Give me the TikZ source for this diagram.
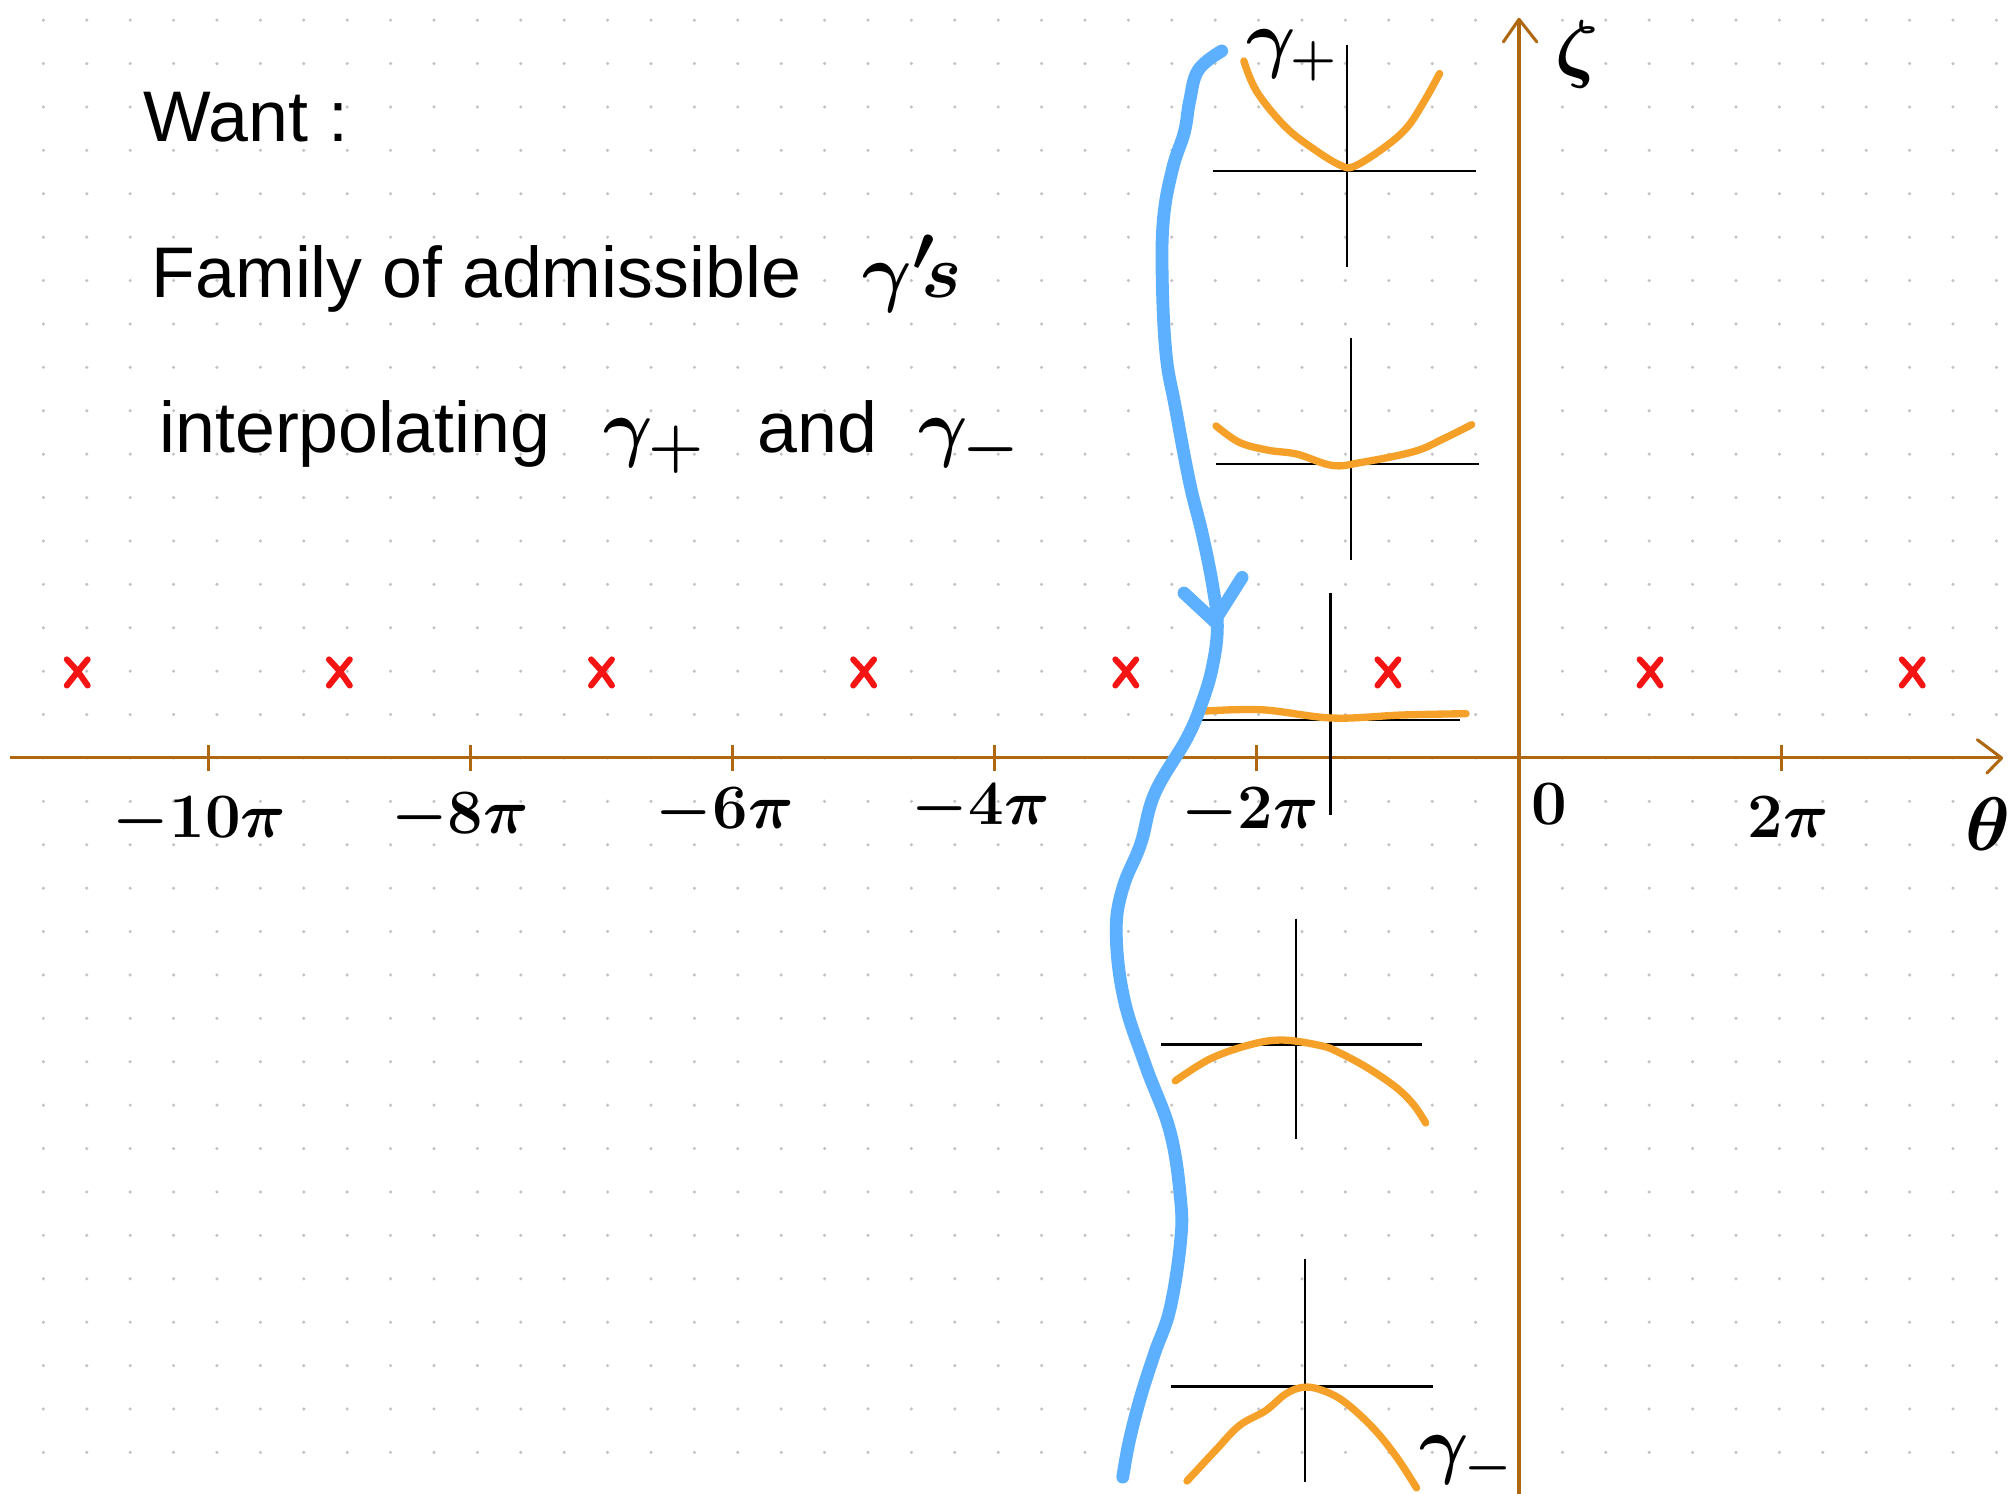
\documentclass[tikz,border=0pt]{standalone}
\usepackage{fontspec}
\setmainfont{Liberation Sans}
\usetikzlibrary{arrows.meta}
\definecolor{axisc}{RGB}{176,104,16}
\definecolor{bluec}{RGB}{92,176,255}
\definecolor{orangec}{RGB}{245,160,40}
\definecolor{redc}{RGB}{245,20,20}
\definecolor{dotc}{RGB}{195,195,195}
\begin{document}
\begin{tikzpicture}[x=0.5cm,y=0.5cm,
  axisline/.style={draw=axisc,line width=1pt},
  chev/.style={draw=axisc,line width=1pt,line cap=round,line join=round},
  crossline/.style={draw=black,line width=0.8pt},
  orangecurve/.style={draw=orangec,line width=2.4pt,line cap=round,line join=round},
  bluecurve/.style={draw=bluec,line width=4.2pt,line cap=round,line join=round},
  xmark/.style={draw=redc,line width=2pt,line cap=round},
  txt/.style={font=\fontsize{23.5}{28}\selectfont,inner sep=0pt,anchor=base west},
  gtxt/.style={font=\fontsize{29}{34}\selectfont\boldmath,inner sep=0pt,anchor=base west},
  ticklabel/.style={font=\fontsize{21}{25}\selectfont\boldmath,inner sep=0pt},
  biglabel/.style={font=\fontsize{32}{38}\selectfont\boldmath,inner sep=0pt},
  smallg/.style={font=\fontsize{24}{28}\selectfont\boldmath,inner sep=0pt,anchor=base west}
]
\useasboundingbox (-35.0,-16.958) rectangle (11.359,17.465);
\fill[white] (-35.0,-16.958) rectangle (11.359,17.465);
% dot grid
\foreach \i in {-34,...,11} {
  \foreach \j in {-16,...,17} {
    \fill[dotc] (\i,\j) circle (0.04);
  }
}
% axes
\coordinate (xl) at (-34.77,0);
\coordinate (xr) at (11.12,0);
\coordinate (yb) at (0,-16.96);
\coordinate (yt) at (0,17.02);
\draw[axisline] (xl) -- (xr);
\draw[axisline] (yb) -- (yt);
\coordinate (xa1) at (10.56,0.42);
\coordinate (xa2) at (10.78,-0.35);
\draw[chev] (xa1) -- (xr) -- (xa2);
\coordinate (ya1) at (-0.36,16.5);
\coordinate (ya2) at (0.41,16.5);
\draw[chev] (ya1) -- (yt) -- (ya2);
% ticks and labels
\foreach \k in {-5,-4,-3,-2,-1,1} {
  \draw[axisline] (\k*6.04,0.3) -- (\k*6.04,-0.3);
}
\node[ticklabel] (lm10) at (-30.4,-1.45) {$-10\pi$};
\node[ticklabel] (lm8) at (-24.4,-1.37) {$-8\pi$};
\node[ticklabel] (lm6) at (-18.3,-1.25) {$-6\pi$};
\node[ticklabel] (lm4) at (-12.4,-1.16) {$-4\pi$};
\node[ticklabel] (lm2) at (-6.2,-1.25) {$-2\pi$};
\node[ticklabel] (l0) at (0.69,-1.07) {$0$};
\node[ticklabel] (lp2) at (6.2,-1.37) {$2\pi$};
\node[biglabel] (theta) at (10.8,-1.52) {$\theta$};
\node[biglabel] (zeta) at (1.35,16.2) {$\zeta$};
% red marks
\foreach \k in {-11,-9,...,9} {
  \draw[xmark,shift={(\k*3.02,1.97)}] (-0.24,0.3) .. controls (0.02,0.02) .. (0.24,-0.3)
     (0.24,0.3) .. controls (-0.02,-0.02) .. (-0.24,-0.3);
}
% text
\node[txt] (want) at (-31.7,14.21) {Want :};
\node[txt] (family) at (-31.52,10.6) {Family of admissible};
\node[gtxt] (gs) at (-15.13,10.6) {$\gamma'\!s$};
\node[txt] (interp) at (-31.34,7.03) {interpolating};
\node[gtxt] (gp) at (-21.1,7.03) {$\gamma_+$};
\node[txt] (and) at (-17.56,7.03) {and};
\node[gtxt] (gm) at (-13.86,7.03) {$\gamma_-$};
% small plots: crosses
\coordinate (h1a) at (-7.06,13.53); \coordinate (h1b) at (-1.0,13.53);
\coordinate (v1a) at (-3.96,16.43); \coordinate (v1b) at (-3.96,11.32);
\coordinate (h2a) at (-6.98,6.77); \coordinate (h2b) at (-0.93,6.77);
\coordinate (v2a) at (-3.87,9.67); \coordinate (v2b) at (-3.87,4.57);
\coordinate (h3a) at (-7.39,0.88); \coordinate (h3b) at (-1.35,0.88);
\coordinate (v3a) at (-4.34,3.81); \coordinate (v3b) at (-4.34,-1.31);
\coordinate (h4a) at (-8.25,-6.60); \coordinate (h4b) at (-2.24,-6.60);
\coordinate (v4a) at (-5.14,-3.70); \coordinate (v4b) at (-5.14,-8.79);
\coordinate (h5a) at (-8.02,-14.48); \coordinate (h5b) at (-1.98,-14.48);
\coordinate (v5a) at (-4.93,-11.54); \coordinate (v5b) at (-4.93,-16.69);
\foreach \n in {1,...,5} {
  \draw[crossline] (h\n a) -- (h\n b);
  \draw[crossline] (v\n a) -- (v\n b);
}
% orange curves
\draw[orangecurve] plot[smooth,tension=0.6] coordinates {(-6.34,16.06) (-6.04,15.35) (-5.38,14.54) (-4.70,14.01) (-4.10,13.65) (-3.78,13.64) (-3.10,14.07) (-2.57,14.54) (-2.15,15.19) (-1.83,15.77)};
\draw[orangecurve] plot[smooth,tension=0.6] coordinates {(-6.98,7.65) (-6.44,7.27) (-5.77,7.09) (-5.11,7.00) (-4.30,6.74) (-3.63,6.81) (-2.42,7.06) (-1.75,7.35) (-1.09,7.68)};
\draw[orangecurve] plot[smooth,tension=0.6] coordinates {(-7.24,1.08) (-5.91,1.11) (-4.30,0.92) (-2.69,0.99) (-1.22,1.02)};
\draw[orangecurve] plot[smooth,tension=0.6] coordinates {(-7.92,-7.44) (-7.11,-6.93) (-6.17,-6.60) (-5.43,-6.50) (-4.56,-6.63) (-4.16,-6.78) (-3.49,-7.14) (-2.82,-7.60) (-2.42,-8.00) (-2.15,-8.41)};
\draw[orangecurve] plot[smooth,tension=0.6] coordinates {(-7.65,-16.66) (-6.98,-15.94) (-6.44,-15.38) (-5.84,-15.04) (-5.37,-14.65) (-4.97,-14.50) (-4.56,-14.56) (-4.03,-14.83) (-3.36,-15.44) (-2.82,-16.11) (-2.36,-16.82)};
% labels gamma +-
\node[smallg] (gplus) at (-6.3,16.0) {$\gamma_+$};
\node[smallg] (gminus) at (-2.3,-16.4) {$\gamma_-$};
% blue curve
\draw[bluecurve] plot[smooth,tension=0.65] coordinates {(-6.85,16.29) (-7.39,15.85) (-7.59,15.13) (-7.71,14.42) (-7.98,13.59) (-8.19,12.44) (-8.22,11.02) (-8.13,9.28) (-7.92,8.09) (-7.59,6.35) (-7.30,5.17) (-7.06,3.98) (-6.95,3.04) (-7.06,2.12) (-7.30,1.29) (-7.65,0.46) (-8.39,-0.81) (-8.72,-1.99) (-9.13,-3.00) (-9.28,-4.03) (-9.10,-5.56) (-8.60,-7.10) (-8.04,-8.61) (-7.80,-10.15) (-7.80,-11.16) (-8.04,-12.69) (-8.39,-13.70) (-8.72,-14.73) (-8.98,-15.74) (-9.13,-16.57)};
\coordinate (bt) at (-7.02,3.15);
\coordinate (ba1) at (-7.72,3.80);
\coordinate (ba2) at (-6.38,4.16);
\draw[bluecurve] (ba1) -- (bt) -- (ba2);
\end{tikzpicture}
\end{document}
